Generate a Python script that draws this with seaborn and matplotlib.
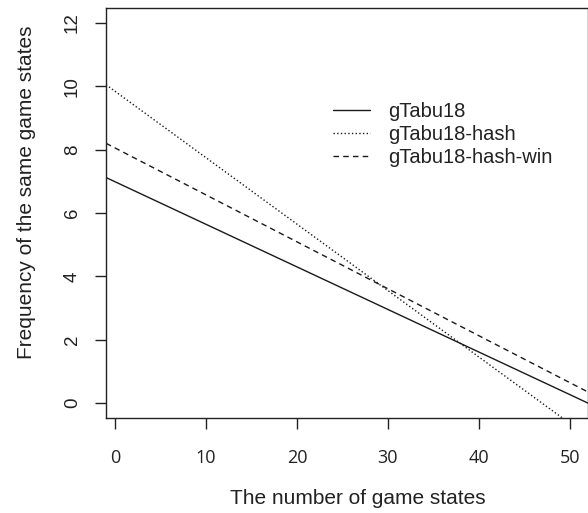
import matplotlib
matplotlib.use("Agg")
import matplotlib.pyplot as plt
import seaborn as sns
import pandas as pd

# Data: straight trend lines, endpoints
x_ends = [-1, 52]
gtabu18 = [7.12, 0.0]
gtabu18_hash = [10.05, -1.06]
gtabu18_hash_win = [8.2, 0.35]
series_names = ["gTabu18", "gTabu18-hash", "gTabu18-hash-win"]
x_ticks = [0, 10, 20, 30, 40, 50]
y_ticks = [0, 2, 4, 6, 8, 10, 12]

rows = []
for name, ys in zip(series_names, [gtabu18, gtabu18_hash, gtabu18_hash_win]):
    for xv, yv in zip(x_ends, ys):
        rows.append({"x": xv, "y": yv, "series": name})
df = pd.DataFrame(rows)

sns.set_style("white")
plt.rcParams["font.family"] = ["Liberation Sans", "DejaVu Sans"]

fig = plt.figure(figsize=(5.88, 5.13), dpi=100)
ax = fig.add_axes([106/588, 1 - 418/513, 482/588, 410/513])

styles = {"gTabu18": "-", "gTabu18-hash": ":", "gTabu18-hash-win": (0, (4, 3))}
for name in series_names:
    sub = df[df["series"] == name]
    sns.lineplot(data=sub, x="x", y="y", ax=ax, color="#1a1a1a", lw=1.0,
                 linestyle=styles[name], label=name)

ax.set_xlim(-1.0, 52.0)
ax.set_ylim(-0.47, 12.47)
ax.set_xticks(x_ticks)
ax.set_yticks(y_ticks)
ax.set_xticklabels([str(v) for v in x_ticks], family="Open Sans", fontsize=13, color="#222222")
ax.set_yticklabels([str(v) for v in y_ticks], family="Liberation Sans", fontsize=13.5, rotation=90,
                   va="center", color="#222222")
ax.tick_params(axis="both", direction="out", length=8, width=1, color="#222222",
               bottom=True, left=True)
ax.tick_params(axis="x", pad=14)
ax.tick_params(axis="y", pad=10)
for s in ax.spines.values():
    s.set_color("#222222")
    s.set_linewidth(1.0)

ax.set_xlabel("The number of game states", fontsize=15, color="#222222")
ax.set_ylabel("Frequency of the same game states", fontsize=15, color="#222222")
ax.xaxis.set_label_coords((358 - 106) / 482, (418 - 499) / 410)
ax.yaxis.set_label_coords((27 - 106) / 482, (418 - 192) / 410)
ax.xaxis.label.set_va("center")
ax.yaxis.label.set_va("center")

leg = ax.legend(loc="upper left", bbox_to_anchor=(0.434, 0.815), frameon=False,
                fontsize=14.5, handlelength=1.8, handletextpad=0.9, labelspacing=0.2)
for t in leg.get_texts():
    t.set_color("#222222")

fig.savefig("out.png", dpi=100)
